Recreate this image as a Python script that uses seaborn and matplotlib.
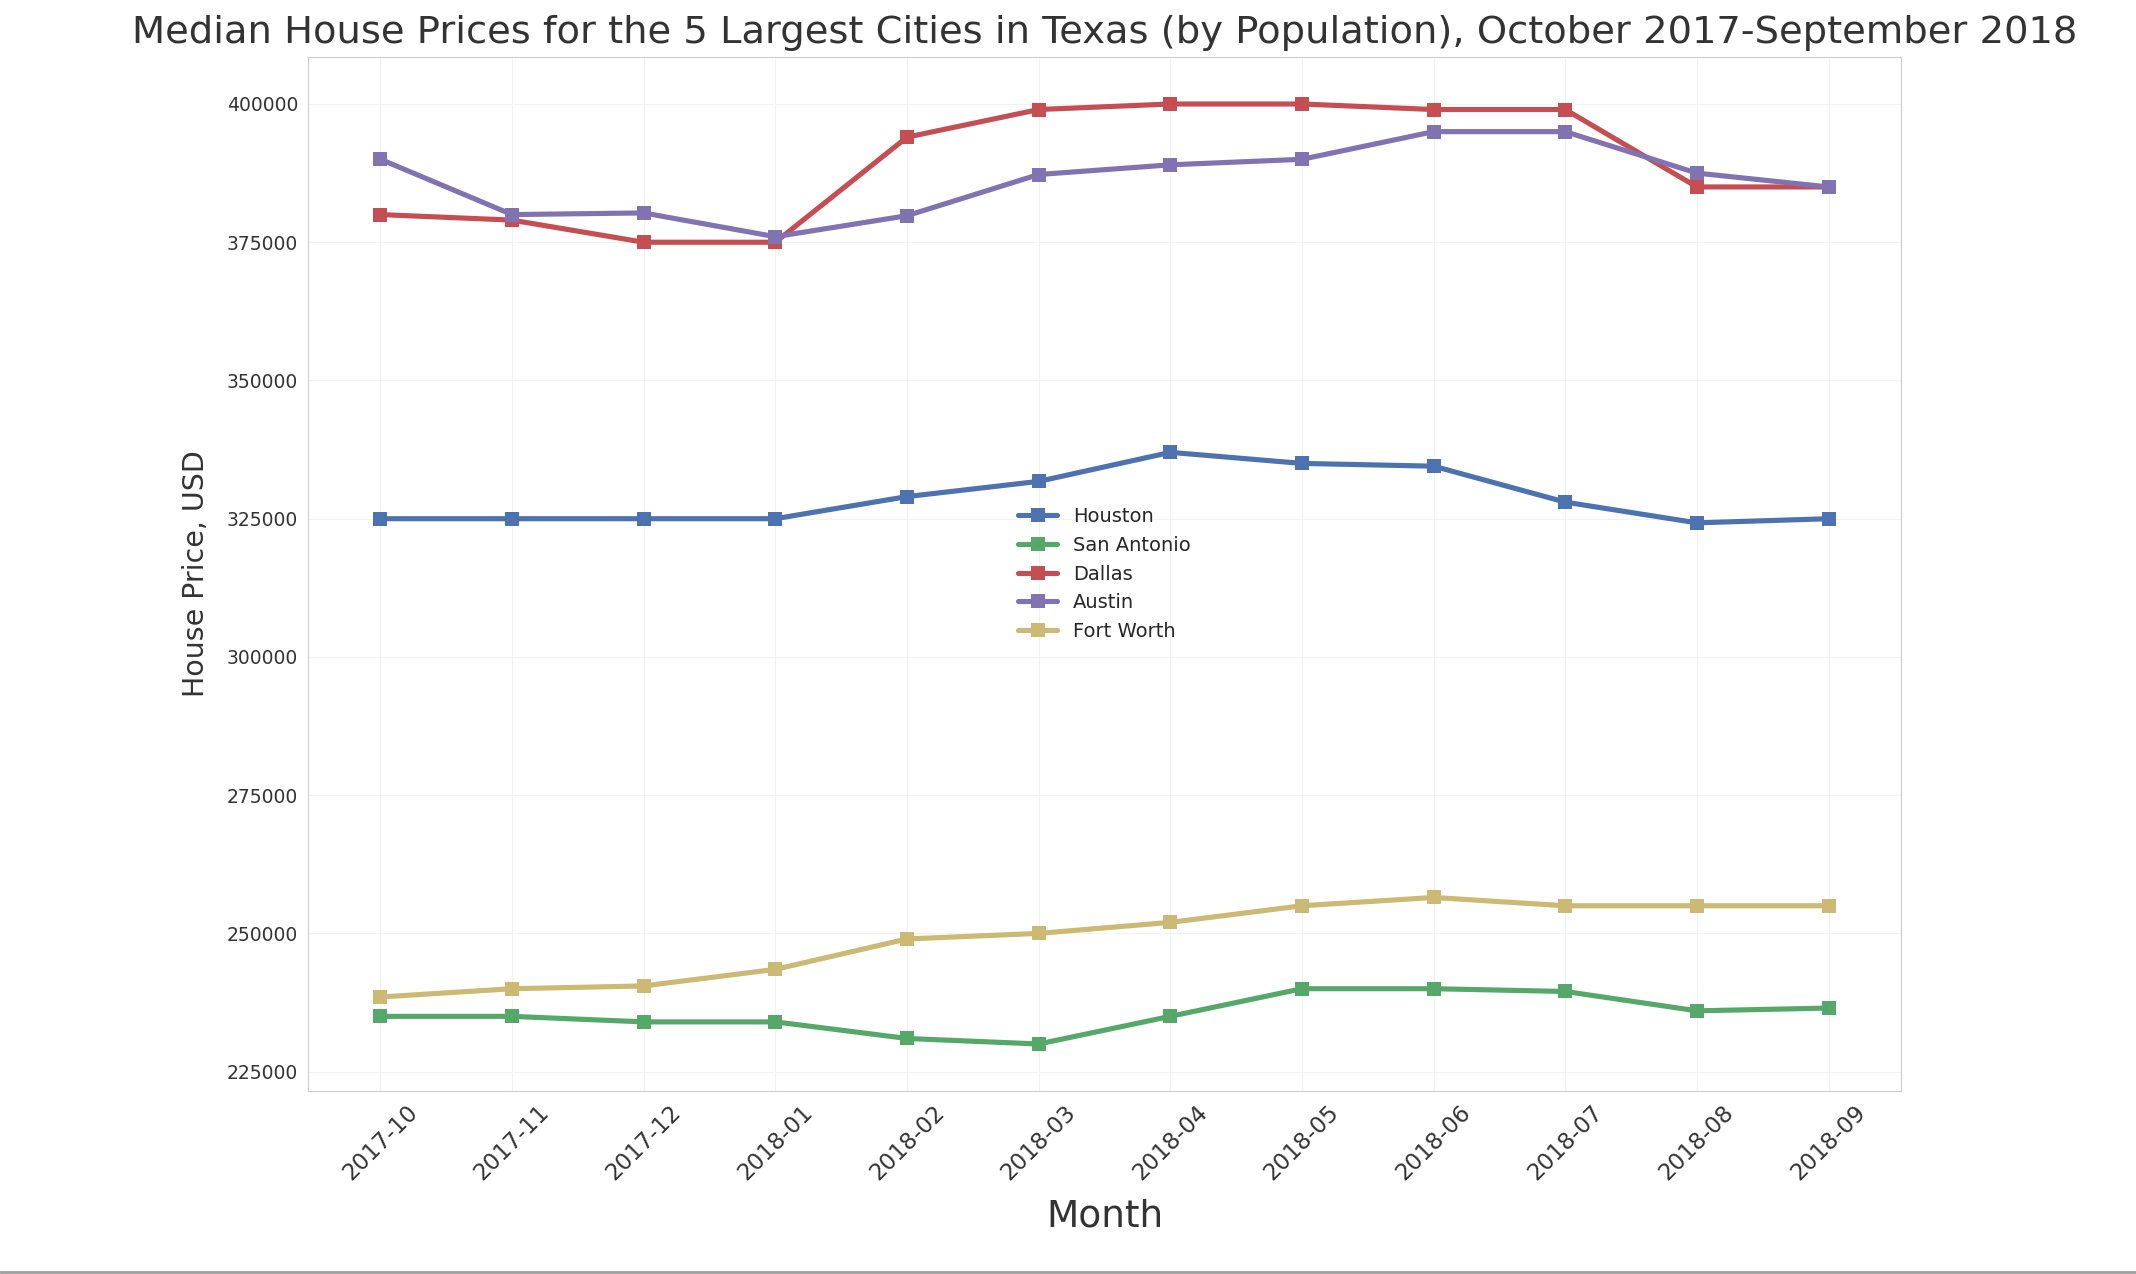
import matplotlib
matplotlib.use('Agg')
import matplotlib.pyplot as plt
from matplotlib.lines import Line2D
import seaborn as sns

months = ['2017-10', '2017-11', '2017-12', '2018-01', '2018-02', '2018-03',
          '2018-04', '2018-05', '2018-06', '2018-07', '2018-08', '2018-09']
houston = [325000, 325000, 325000, 325000, 329000, 331750, 337000, 335000, 334500, 328000, 324250, 325000]
san_antonio = [235000, 235000, 234000, 234000, 231000, 230000, 235000, 240000, 240000, 239500, 236000, 236500]
dallas = [380000, 379000, 375000, 375000, 394000, 399000, 400000, 400000, 399000, 399000, 385000, 385000]
austin = [390000, 380000, 380300, 376000, 379800, 387250, 389000, 390000, 395000, 395000, 387500, 385000]
fort_worth = [238500, 240000, 240500, 243500, 249000, 250000, 252000, 255000, 256500, 255000, 255000, 255000]

cities = ['Houston', 'San Antonio', 'Dallas', 'Austin', 'Fort Worth']
series = [houston, san_antonio, dallas, austin, fort_worth]
colors = ['#4C72B0', '#55A868', '#C44E52', '#8172B2', '#CCB974']

sns.set_style('whitegrid', {'grid.color': '.95', 'axes.edgecolor': '.8'})
plt.rcParams['font.family'] = ['DejaVu Sans']

fig, ax = plt.subplots(figsize=(21.36, 12.74), dpi=100)
fig.subplots_adjust(left=308/2136, right=1901/2136, top=1-57/1274, bottom=1-1091/1274)

for city, vals, c in zip(cities, series, colors):
    sns.lineplot(x=months, y=vals, ax=ax, label=city, color=c, marker='s',
                 markersize=10, markeredgewidth=0, linewidth=3.7)

ax.legend(loc='center', frameon=False, fontsize=14)
ax.set_title('Median House Prices for the 5 Largest Cities in Texas (by Population), October 2017-September 2018',
             fontsize=27.7, color='.2', pad=10)
ax.set_xlabel('Month', fontsize=27, color='.2', labelpad=10)
ax.set_ylabel('House Price, USD', fontsize=20.5, color='.2', labelpad=12)
ax.tick_params(axis='x', labelsize=16.5, rotation=45, colors='.2')
ax.tick_params(axis='y', labelsize=13.5, colors='.2')
for lbl in ax.get_xticklabels():
    lbl.set_ha('center')

fig.add_artist(Line2D([0, 1], [2/1274, 2/1274], transform=fig.transFigure, color='#a0a0a0', linewidth=2))

fig.savefig('out.png', dpi=100)
